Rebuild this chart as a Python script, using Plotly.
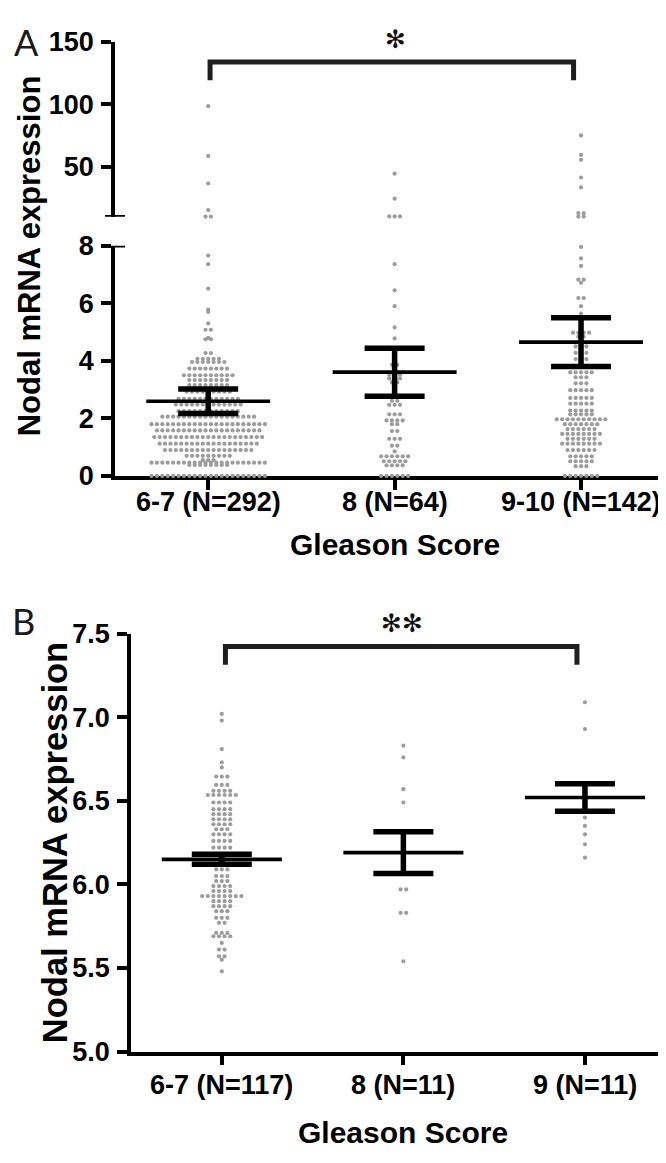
import plotly.graph_objects as go

# The page body keeps the browser's default 8px margin, so the figure is drawn
# 8px in from the window's top-left corner; positions below are window pixels.
WIN_W, WIN_H, OFF = 666, 1163, 8
W, H = WIN_W - OFF, WIN_H - OFF

# ---------------- Panel A data (rows of the dot plot: value, number of dots) ----
a_labels = ["6-7 (N=292)", "8 (N=64)", "9-10 (N=142)"]
a1_vals = [0.0, 0.38, 0.46, 0.55, 0.70, 0.90, 1.12, 1.35, 1.58, 1.80, 2.06, 2.25,
           2.48, 2.68, 2.93, 3.16, 3.33, 3.50, 3.73, 3.96, 4.07, 4.27, 4.75, 4.80,
           5.08, 5.30, 5.70, 5.78, 6.51, 7.36, 7.66, 10.2, 15.4, 36.7, 58.6, 98.4]
a1_cnts = [22, 8, 22, 3, 9, 17, 19, 21, 20, 22, 18, 12,
           13, 12, 9, 8, 8, 10, 8, 7, 5, 2, 2, 1,
           2, 1, 1, 1, 1, 1, 1, 2, 1, 1, 1, 1]
a2_vals = [0.0, 0.37, 0.51, 0.68, 0.85, 1.05, 1.29, 1.56, 1.80, 1.93, 2.14, 2.47,
           2.61, 3.25, 3.39, 3.52, 3.66, 3.86, 4.78, 5.16, 5.90, 6.45, 7.36,
           10.3, 24.5, 44.5]
a2_cnts = [6, 4, 5, 6, 1, 2, 3, 2, 2, 4, 3, 3,
           2, 2, 3, 3, 1, 2, 1, 1, 1, 1, 1,
           3, 1, 1]
a3_vals = [0.0, 0.34, 0.51, 0.68, 0.90, 1.12, 1.29, 1.46, 1.63, 1.80, 1.97, 2.14,
           2.27, 2.51, 2.71, 2.98, 3.22, 3.43, 3.60, 4.06, 4.28, 4.50, 4.84, 4.98,
           5.36, 5.64, 5.90, 6.18, 6.71, 6.82, 7.30, 7.56, 7.96,
           10.2, 13.0, 33.6, 41.4, 55.5, 59.4, 75.0]
a3_cnts = [7, 3, 5, 5, 6, 8, 6, 8, 6, 7, 10, 5,
           5, 5, 5, 5, 3, 3, 5, 3, 3, 3, 2, 4,
           1, 1, 1, 2, 1, 2, 1, 1, 1,
           2, 2, 1, 1, 1, 1, 1]
a_means = [2.595, 3.605, 4.65]
a_sems = [0.425, 0.835, 0.85]

# ---------------- Panel B data ----------------
b_labels = ["6-7 (N=117)", "8 (N=11)", "9 (N=11)"]
b1_vals = [5.48, 5.55, 5.57, 5.61, 5.65, 5.69, 5.71, 5.77, 5.80, 5.84, 5.87, 5.90,
           5.93, 5.96, 5.99, 6.02, 6.05, 6.09, 6.12, 6.15, 6.18, 6.22, 6.26, 6.30,
           6.33, 6.36, 6.39, 6.42, 6.45, 6.49, 6.535, 6.56, 6.595, 6.645, 6.70, 6.73,
           6.81, 6.98, 7.02]
b1_cnts = [1, 1, 2, 2, 1, 4, 3, 2, 3, 3, 4, 4,
           8, 4, 4, 3, 3, 3, 2, 2, 2, 4, 4, 4,
           3, 4, 4, 4, 4, 4, 6, 4, 3, 3, 1, 1,
           1, 1, 1]
b2_vals = [5.54, 5.83, 5.97, 6.22, 6.30, 6.49, 6.57, 6.76, 6.83]
b2_cnts = [1, 2, 2, 1, 1, 1, 1, 1, 1]
b3_vals = [6.16, 6.24, 6.30, 6.35, 6.40, 6.46, 6.49, 6.55, 6.58, 6.93, 7.09]
b3_cnts = [1, 1, 1, 1, 1, 1, 1, 1, 1, 1, 1]
b_means = [6.15, 6.19, 6.52]
b_sems = [0.03, 0.125, 0.082]

BREAK = 10  # lower bound of the upper segment of panel A's broken axis


# ---------------- geometry helpers (window pixels -> paper) ----------------
def PX(x):
    return (x - OFF) / W


def PY(y):
    return 1 - (y - OFF) / H


A_L, A_C0, A_SP = 115, 208, 186.5   # axis x, first category x, px per category (panel A)
B_L, B_C0, B_SP = 131, 222, 181.5   # same for panel B
DOT = "#9c9c9c"


def swarm(center, vals, cnts, step):
    xs, ys = [], []
    for v, n in zip(vals, cnts):
        for i in range(n):
            xs.append(center + (i - (n - 1) / 2) * step)
            ys.append(v)
    return xs, ys


fig = go.Figure()

# Panel A dots
for gi, (vals, cnts) in enumerate([(a1_vals, a1_cnts), (a2_vals, a2_cnts), (a3_vals, a3_cnts)]):
    xs, ys = swarm(gi, vals, cnts, 5.4 / A_SP)
    lo = [(x, y) for x, y in zip(xs, ys) if y < BREAK]
    hi = [(x, y) for x, y in zip(xs, ys) if y >= BREAK]
    fig.add_trace(go.Scatter(x=[p[0] for p in lo], y=[p[1] for p in lo], mode="markers",
                             marker=dict(size=4.2, color=DOT), cliponaxis=False,
                             xaxis="x", yaxis="y", hoverinfo="skip"))
    fig.add_trace(go.Scatter(x=[p[0] for p in hi], y=[p[1] for p in hi], mode="markers",
                             marker=dict(size=4.2, color=DOT), cliponaxis=False,
                             xaxis="x", yaxis="y2", hoverinfo="skip"))

# Panel A mean +/- SEM
fig.add_trace(go.Scatter(x=[0, 1, 2], y=a_means, mode="markers",
                         marker=dict(size=1, color="rgba(0,0,0,0)"),
                         error_y=dict(type="data", array=a_sems, color="black", thickness=5.5, width=30),
                         error_x=dict(type="constant", value=62 / A_SP, color="black", thickness=3.7, width=0),
                         cliponaxis=False, xaxis="x", yaxis="y", hoverinfo="skip"))

# Panel B dots
for gi, (vals, cnts) in enumerate([(b1_vals, b1_cnts), (b2_vals, b2_cnts), (b3_vals, b3_cnts)]):
    xs, ys = swarm(gi, vals, cnts, 5.6 / B_SP)
    fig.add_trace(go.Scatter(x=xs, y=ys, mode="markers",
                             marker=dict(size=4.2, color=DOT), cliponaxis=False,
                             xaxis="x2", yaxis="y3", hoverinfo="skip"))

fig.add_trace(go.Scatter(x=[0, 1, 2], y=b_means, mode="markers",
                         marker=dict(size=1, color="rgba(0,0,0,0)"),
                         error_y=dict(type="data", array=b_sems, color="black", thickness=5.5, width=30),
                         error_x=dict(type="constant", value=60 / B_SP, color="black", thickness=3.7, width=0),
                         cliponaxis=False, xaxis="x2", yaxis="y3", hoverinfo="skip"))

FAM = "Liberation Sans, Arial, sans-serif"
TICKFONT = dict(family=FAM, size=27, color="black", weight="bold")
base = dict(showline=True, linecolor="black", linewidth=3.5, ticks="outside", ticklen=10,
            tickwidth=3.5, tickcolor="black", showgrid=False, zeroline=False,
            tickfont=TICKFONT, layer="below traces", fixedrange=True)

fig.update_layout(
    width=W, height=H, margin=dict(l=0, r=0, t=0, b=0),
    paper_bgcolor="white", plot_bgcolor="white", showlegend=False,
    xaxis=dict(base, domain=[PX(A_L), 1], range=[-0.5, (WIN_W - A_C0) / A_SP], anchor="y",
               tickmode="array", tickvals=[0, 1, 2], showticklabels=False),
    yaxis=dict(base, domain=[PY(473), PY(236.7)], range=[0, 8], anchor="x",
               tickmode="array", tickvals=[0, 2, 4, 6, 8], ticklabelstandoff=2),
    yaxis2=dict(base, domain=[PY(207), PY(27)], range=[BREAK, 150], anchor="x",
                tickmode="array", tickvals=[50, 100, 150], ticklabelstandoff=2),
    xaxis2=dict(base, domain=[PX(B_L), 1], range=[-0.5, (WIN_W - B_C0) / B_SP], anchor="y3",
                tickmode="array", tickvals=[0, 1, 2], showticklabels=False),
    yaxis3=dict(base, domain=[PY(1064), PY(635)], range=[5, 7.5], anchor="x2",
                tickmode="array", tickvals=[5, 5.5, 6, 6.5, 7, 7.5], tickformat=".1f",
                ticklabelstandoff=2),
)

# Axis-break marks
fig.add_shape(type="line", xref="paper", yref="y2", x0=PX(105), x1=PX(125), y0=BREAK, y1=BREAK,
              line=dict(color="black", width=3.5))
fig.add_shape(type="line", xref="paper", yref="y", x0=PX(105), x1=PX(125), y0=8, y1=8,
              line=dict(color="black", width=3.5))

# Significance brackets
fig.add_shape(type="path", xref="x", yref="y2",
              path="M 0.01,119 L 0.01,133.6 L 1.96,133.6 L 1.96,119",
              line=dict(color="#1e1e1e", width=5))
fig.add_shape(type="path", xref="x2", yref="y3",
              path="M 0.02,7.314 L 0.02,7.424 L 1.956,7.424 L 1.956,7.314",
              line=dict(color="#1e1e1e", width=5))

# Category labels (placed under the category ticks)
for i, t in enumerate(a_labels):
    fig.add_annotation(text=t, xref="x", yref="paper", x=i, y=PY(500), font=TICKFONT)
for i, t in enumerate(b_labels):
    fig.add_annotation(text=t, xref="x2", yref="paper", x=i, y=PY(1098), font=TICKFONT)

TITLE = dict(family=FAM, color="black", weight="bold")
ann = [
    dict(text="A", x=PX(26), y=PY(27), font=dict(family="Lato", size=36, color="#1a1a1a")),
    dict(text="B", x=PX(23), y=PY(622), font=dict(family="Lato", size=36, color="#1a1a1a")),
    dict(text="Nodal mRNA expression", x=PX(29), y=PY(247.5), textangle=-90,
         font=dict(TITLE, size=31)),
    dict(text="Nodal mRNA expression", x=PX(55), y=PY(850), textangle=-90,
         font=dict(TITLE, size=34.5)),
    dict(text="Gleason Score", x=PX(395), y=PY(543), font=dict(TITLE, size=30)),
    dict(text="Gleason Score", x=PX(403), y=PY(1147), font=dict(TITLE, size=30)),
    dict(text="✻", x=PX(395), y=PY(24.5), font=dict(family="DejaVu Sans", size=25, color="#111")),
    dict(text="✻✻", x=PX(401.5), y=PY(625), font=dict(family="DejaVu Sans", size=25, color="#111")),
]
for a in ann:
    a.update(xref="paper", yref="paper")
    fig.add_annotation(**a)

fig.update_annotations(showarrow=False, xanchor="center", yanchor="middle")

fig.write_html("out.html")
